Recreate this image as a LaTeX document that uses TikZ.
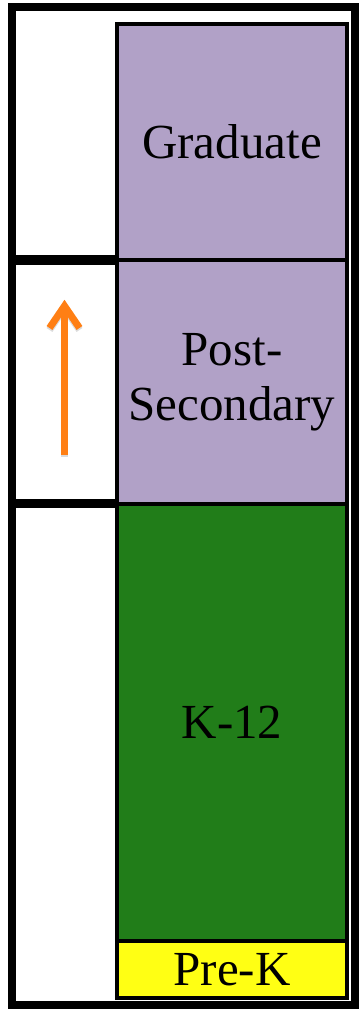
\documentclass[tikz,border=0pt]{standalone}
\usepackage{fontspec}
\setmainfont{Liberation Serif}
\usetikzlibrary{
    arrows.meta,
    positioning,
    calc
}
\definecolor{gradpurple}{RGB}{177,161,199}
\definecolor{kgreen}{RGB}{33,125,25}
\definecolor{prekyellow}{RGB}{255,255,20}
\definecolor{riseorange}{RGB}{255,127,20}

\begin{document}
\begin{tikzpicture}[
        x=0.5pt, y=-0.5pt,
        node distance=0pt,
        tier/.style={rectangle, draw=black, line width=2pt, outer sep=0pt,
                     inner sep=0pt, minimum width=115pt, align=center,
                     font=\fontsize{24.5}{27.5}\selectfont},
        frame/.style={rectangle, draw=black, line width=4pt, outer sep=0pt,
                      minimum width=171.5pt, minimum height=499pt},
        divider/.style={draw=black, line width=4.75pt},
        rise/.style={-{Straight Barb[length=11pt, width=15pt]}, line width=3.5pt,
                     draw=riseorange},
    ]
    \useasboundingbox (0,0) rectangle (360,1009);

    % Outer frame
    \node[frame] (frame) at (183.5,506) {};

    % Nodes - right column (top to bottom)
    \node[tier, fill=gradpurple, minimum height=118.25pt, anchor=north west]
        (grad) at (117,23.5) {Graduate};
    \node[tier, fill=gradpurple, minimum height=121.75pt, below=of grad]
        (post) {Post-\\Secondary};
    \node[tier, fill=kgreen, minimum height=218.75pt, below=of post]
        (k12) {K-12};
    \node[tier, fill=prekyellow, minimum height=28.25pt, below=of k12]
        (prek) {Pre-K};

    % Left cell dividers
    \draw[divider] (frame.west |- post.north) -- (post.north west);
    \draw[divider] (frame.west |- k12.north) -- (k12.north west);

    % Arrow in the middle cell
    \coordinate (cell) at ($(frame.west |- post.center)!0.5!(post.west)$);
    \coordinate[below=36.5pt of cell] (rise-foot);
    \coordinate[above=41pt of cell] (rise-tip);
    \draw[rise, draw=black!35, opacity=.4] ([yshift=-1pt]rise-foot) -- ([yshift=-1pt]rise-tip);
    \draw[rise] (rise-foot) -- (rise-tip);

\end{tikzpicture}
\end{document}
